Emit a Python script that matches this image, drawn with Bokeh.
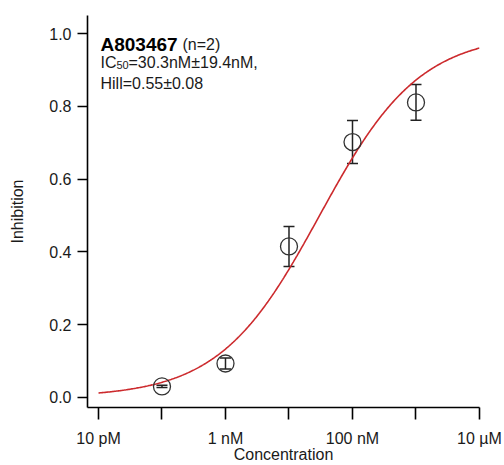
import numpy as np
from bokeh.plotting import figure
from bokeh.models import (Range1d, FixedTicker, Whisker, TeeHead, ColumnDataSource,
                          Label, PrintfTickFormatter, CustomJSTickFormatter)
from bokeh.embed import file_html
from bokeh.resources import INLINE

# ---- data ----
conc_M = [1e-10, 1e-9, 1e-8, 1e-7, 1e-6]
inhibition = [0.030, 0.093, 0.415, 0.702, 0.811]
inhibition_err = [0.003, 0.015, 0.055, 0.059, 0.049]

x_ticks = [1e-11, 1e-10, 1e-9, 1e-8, 1e-7, 1e-6, 1e-5]
x_tick_labels = ["10 pM", "", "1 nM", "", "100 nM", "", "10 µM"]
y_ticks = [0.0, 0.2, 0.4, 0.6, 0.8, 1.0]

x_title = "Concentration"
y_title = "Inhibition"
compound = "A803467"
n_reps = 2
ic50_nM = 30.3
ic50_err_nM = 19.4
hill = 0.55
hill_err = 0.08

# fitted Hill curve from the stated parameters
fit_x = np.logspace(-11, -5, 400)
fit_y = 1.0 / (1.0 + (ic50_nM * 1e-9 / fit_x) ** hill)

FONT = "Liberation Sans"
TXT = "#1a1a1a"

p = figure(width=504, height=465, x_axis_type="log",
           x_range=Range1d(10 ** -11.173, 1e-5), y_range=Range1d(-0.028, 1.050),
           output_backend="svg", toolbar_location=None,
           min_border_left=87, min_border_right=25, min_border_top=15, min_border_bottom=58)
p.outline_line_color = None
p.xgrid.visible = False
p.ygrid.visible = False
p.background_fill_color = "white"
p.border_fill_color = "white"

p.xaxis.ticker = FixedTicker(ticks=x_ticks, minor_ticks=[])
p.xaxis.formatter = CustomJSTickFormatter(args=dict(tvals=x_ticks, tlabels=x_tick_labels), code="""
    for (let i = 0; i < tvals.length; i++) {
        if (Math.abs(Math.log10(tick) - Math.log10(tvals[i])) < 1e-6) return tlabels[i];
    }
    return "";
""")
p.yaxis.ticker = FixedTicker(ticks=y_ticks, minor_ticks=[])
p.yaxis.formatter = PrintfTickFormatter(format="%.1f")

for ax in (p.xaxis[0], p.yaxis[0]):
    ax.axis_line_color = "black"
    ax.axis_line_width = 1.6
    ax.major_tick_line_color = "black"
    ax.major_tick_line_width = 1.6
    ax.major_tick_in = 0
    ax.minor_tick_in = 0
    ax.minor_tick_out = 0
    ax.major_label_text_font = FONT
    ax.major_label_text_font_size = "16px"
    ax.major_label_text_color = TXT
    ax.axis_label_text_font = FONT
    ax.axis_label_text_font_size = "16px"
    ax.axis_label_text_font_style = "normal"
    ax.axis_label_text_color = TXT

p.xaxis.major_tick_out = 12
p.xaxis.major_label_standoff = 10
p.xaxis.axis_label = x_title
p.xaxis.axis_label_standoff = -4
p.yaxis.major_tick_out = 10
p.yaxis.major_label_standoff = 6
p.yaxis.axis_label = y_title
p.yaxis.axis_label_standoff = 20

# fit curve
p.line(fit_x, fit_y, line_color="#cc2a2d", line_width=1.6)

# data points with error bars
upper = [v + e for v, e in zip(inhibition, inhibition_err)]
lower = [v - e for v, e in zip(inhibition, inhibition_err)]
src = ColumnDataSource(dict(x=conc_M, y=inhibition, upper=upper, lower=lower))
p.scatter("x", "y", source=src, marker="circle", size=17, fill_color=None,
          line_color="#333333", line_width=1.3)
wh = Whisker(base="x", upper="upper", lower="lower", source=src, dimension="height",
             line_color="#222222", line_width=1.5,
             upper_head=TeeHead(size=11, line_color="#222222", line_width=1.5),
             lower_head=TeeHead(size=11, line_color="#222222", line_width=1.5))
p.add_layout(wh)

# annotation text (positions in pixels of the 504x465 picture, converted to data)
def ypix(pix):
    return (396.7 - pix) / 363.4

def xpix(pix):
    return 10 ** (-11 + (pix - 98) / 63.5)

tx = xpix(100)
p.add_layout(Label(x=tx, y=ypix(44), text=compound, text_font=FONT, text_font_size="19px",
                   text_font_style="bold", text_color="black", text_baseline="alphabetic"))
p.add_layout(Label(x=tx, y=ypix(44), x_offset=82, text=f"(n={n_reps})", text_font=FONT,
                   text_font_size="16px", text_color=TXT, text_baseline="alphabetic"))
p.add_layout(Label(x=tx, y=ypix(62.5), text="IC", text_font=FONT, text_font_size="16px",
                   text_color=TXT, text_baseline="alphabetic"))
p.add_layout(Label(x=tx, y=ypix(65), x_offset=16, text="50", text_font=FONT, text_font_size="11px",
                   text_color=TXT, text_baseline="alphabetic"))
p.add_layout(Label(x=tx, y=ypix(62.5), x_offset=28,
                   text=f"={ic50_nM}nM±{ic50_err_nM}nM,", text_font=FONT, text_font_size="16px",
                   text_color=TXT, text_baseline="alphabetic"))
p.add_layout(Label(x=tx, y=ypix(83), text=f"Hill={hill:.2f}±{hill_err:.2f}", text_font=FONT,
                   text_font_size="16px", text_color=TXT, text_baseline="alphabetic"))

open("out.html", "w").write(file_html(p, INLINE))
